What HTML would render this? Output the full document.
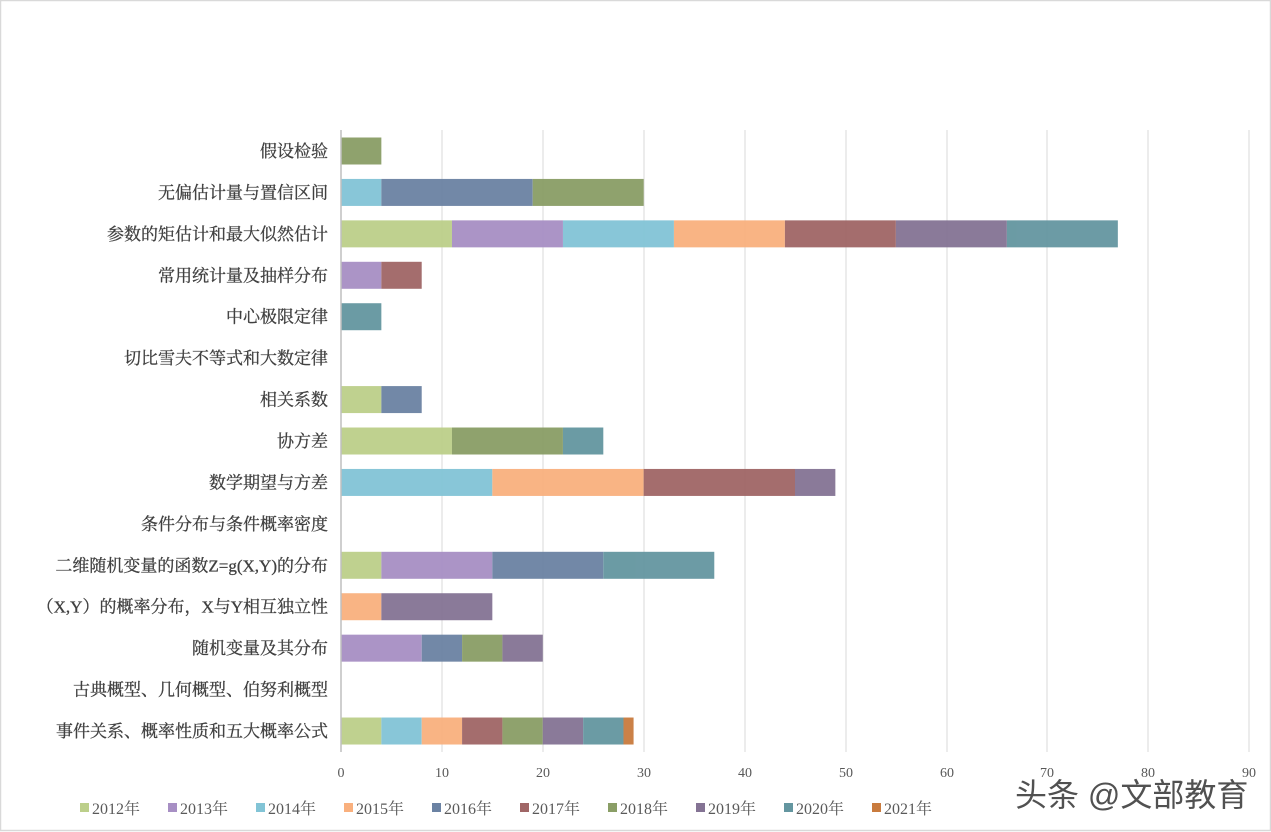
<!DOCTYPE html><html><head><meta charset="utf-8"><style>body{margin:0;background:#fff}svg{display:block}</style></head><body>
<svg width="1271" height="832" xmlns="http://www.w3.org/2000/svg" font-family="'Liberation Serif','Noto Serif CJK SC',serif">
<rect x="0.5" y="0.5" width="1270" height="830" fill="#fff" stroke="#d9d9d9" stroke-width="1.5"/>
<g stroke="#d9d9d9" stroke-width="1">
<line x1="442" y1="130" x2="442" y2="752"/><line x1="543" y1="130" x2="543" y2="752"/><line x1="644" y1="130" x2="644" y2="752"/><line x1="745" y1="130" x2="745" y2="752"/><line x1="846" y1="130" x2="846" y2="752"/><line x1="947" y1="130" x2="947" y2="752"/><line x1="1047" y1="130" x2="1047" y2="752"/><line x1="1148" y1="130" x2="1148" y2="752"/><line x1="1249" y1="130" x2="1249" y2="752"/>
</g>
<g id="bars" opacity="0.95"></g>
<line x1="341" y1="130" x2="341" y2="752" stroke="#bfbfbf" stroke-width="1.5"/>
<g font-size="14" fill="#595959" text-anchor="middle">
<text x="341" y="777">0</text><text x="442" y="777">10</text><text x="543" y="777">20</text><text x="644" y="777">30</text><text x="745" y="777">40</text><text x="846" y="777">50</text><text x="947" y="777">60</text><text x="1047" y="777">70</text><text x="1148" y="777">80</text><text x="1249" y="777">90</text>
</g>
<g id="labels" font-size="17" fill="#404040" text-anchor="end" stroke="#404040" stroke-width="0.3"></g>
<g id="legend" font-size="16" fill="#595959"></g>
<text x="1015" y="806" font-size="32" fill="#333" font-family="'Liberation Sans','Noto Sans CJK SC',sans-serif" opacity="0.85">头条 @文部教育</text>
<script>
var C=["#bccf8a","#a78fc4","#82c4d6","#f9b07e","#6b82a3","#a06666","#8a9e66","#847394","#6496a0","#c97b3e"];
var rows=[["假设检验",{6:4}],["无偏估计量与置信区间",{2:4,4:15,6:11}],["参数的矩估计和最大似然估计",{0:11,1:11,2:11,3:11,5:11,7:11,8:11}],["常用统计量及抽样分布",{1:4,5:4}],["中心极限定律",{8:4}],["切比雪夫不等式和大数定律",{}],["相关系数",{0:4,4:4}],["协方差",{0:11,6:11,8:4}],["数学期望与方差",{2:15,3:15,5:15,7:4}],["条件分布与条件概率密度",{}],["二维随机变量的函数Z=g(X,Y)的分布",{0:4,1:11,4:11,8:11}],["（X,Y）的概率分布，X与Y相互独立性",{3:4,7:11}],["随机变量及其分布",{1:8,4:4,6:4,7:4}],["古典概型、几何概型、伯努利概型",{}],["事件关系、概率性质和五大概率公式",{0:4,2:4,3:4,5:4,6:4,7:4,8:4,9:1}]];
var ns="http://www.w3.org/2000/svg",b=document.getElementById("bars"),l=document.getElementById("labels"),g=document.getElementById("legend");
var s=908/90;
rows.forEach(function(r,i){var cy=151+i*41.43,x=0;
 for(var k=0;k<10;k++){if(r[1][k]){var e=document.createElementNS(ns,"rect");e.setAttribute("x",341+x*s);e.setAttribute("y",cy-13.5);e.setAttribute("width",r[1][k]*s);e.setAttribute("height",27);e.setAttribute("fill",C[k]);b.appendChild(e);x+=r[1][k];}}
 var t=document.createElementNS(ns,"text");t.setAttribute("x",328);t.setAttribute("y",cy+6);t.textContent=r[0];l.appendChild(t);});
for(var k=0;k<10;k++){var x0=80+k*88;var e=document.createElementNS(ns,"rect");e.setAttribute("x",x0);e.setAttribute("y",803);e.setAttribute("width",9);e.setAttribute("height",9);e.setAttribute("fill",C[k]);g.appendChild(e);
 var t=document.createElementNS(ns,"text");t.setAttribute("x",x0+12);t.setAttribute("y",814);t.textContent=(2012+k)+"年";g.appendChild(t);}
</script>
</svg></body></html>
